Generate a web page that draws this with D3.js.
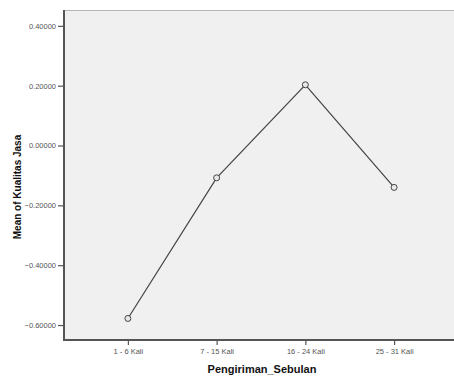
<!DOCTYPE html>
<html>
<head>
<meta charset="utf-8">
<script src="https://cdn.jsdelivr.net/npm/d3@7"></script>
<style>
  html, body { margin: 0; padding: 0; background: #fff; }
  svg { display: block; font-family: "Liberation Sans", Arial, sans-serif; }
</style>
</head>
<body>
<svg id="chart" width="454" height="379"></svg>
<script>
// Mean of Kualitas Jasa per delivery-frequency group
const categories = ["1 - 6 Kali", "7 - 15 Kali", "16 - 24 Kali", "25 - 31 Kali"];
const means = [-0.578, -0.108, 0.203, -0.140];
const yTicks = [0.4, 0.2, 0.0, -0.2, -0.4, -0.6];

const svg = d3.select("#chart");
const plotL = 64, plotT = 10, plotR = 458, plotB = 340;

const x = d3.scalePoint().domain(categories).range([plotL, plotR]).padding(0.72);
const y = d3.scaleLinear().domain([-0.650, 0.453]).range([plotB, plotT]);

// plot area
svg.append("rect")
  .attr("x", plotL).attr("y", plotT)
  .attr("width", plotR - plotL).attr("height", plotB - plotT)
  .attr("fill", "#f0f0f0");
svg.append("line")
  .attr("x1", plotL).attr("x2", plotR).attr("y1", plotT + 0.5).attr("y2", plotT + 0.5)
  .attr("stroke", "#b4b4b4").attr("stroke-width", 1);

// axes
const yAxis = svg.append("g")
  .attr("transform", `translate(${plotL},0)`)
  .call(d3.axisLeft(y).tickValues(yTicks).tickFormat(d3.format(".5f")).tickSize(6).tickPadding(2));
const xAxis = svg.append("g")
  .attr("transform", `translate(0,${plotB})`)
  .call(d3.axisBottom(x).tickSize(5).tickPadding(4));

[yAxis, xAxis].forEach(g => {
  g.select(".domain").remove();
  g.selectAll(".tick line").attr("stroke", "#555").attr("stroke-width", 1.2);
  g.selectAll(".tick text").attr("fill", "#555").style("font-size", "7.5px");
});

svg.append("line")
  .attr("x1", plotL).attr("x2", plotL).attr("y1", plotT).attr("y2", plotB + 1)
  .attr("stroke", "#555").attr("stroke-width", 2);
svg.append("line")
  .attr("x1", plotL).attr("x2", plotR).attr("y1", plotB).attr("y2", plotB)
  .attr("stroke", "#555").attr("stroke-width", 2);

// series line and markers
const pts = categories.map((c, i) => [x(c), y(means[i])]);
svg.append("path")
  .attr("d", d3.line()(pts))
  .attr("fill", "none").attr("stroke", "#444").attr("stroke-width", 1.2);
svg.selectAll("circle.pt").data(pts).enter().append("circle")
  .attr("class", "pt")
  .attr("cx", d => d[0]).attr("cy", d => d[1]).attr("r", 3)
  .attr("fill", "#e8e8e8").attr("stroke", "#444").attr("stroke-width", 1);

// axis titles
svg.append("text")
  .attr("x", 262).attr("y", 373)
  .attr("text-anchor", "middle")
  .style("font-size", "11px").style("font-weight", "bold").attr("fill", "#111")
  .text("Pengiriman_Sebulan");
svg.append("text")
  .attr("transform", "translate(21,187) rotate(-90)")
  .attr("text-anchor", "middle")
  .style("font-size", "10px").style("font-weight", "bold").attr("fill", "#111")
  .text("Mean of Kualitas Jasa");
</script>
</body>
</html>
